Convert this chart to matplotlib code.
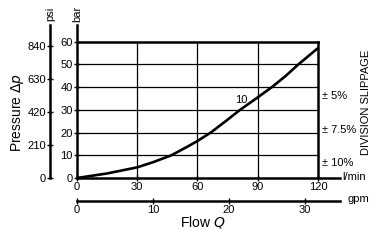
import matplotlib.pyplot as plt

plt.rcParams['font.family'] = ['Liberation Sans Narrow', 'Liberation Sans', 'DejaVu Sans']

# curve (flow in l/min, pressure in bar)
flow = [0, 15, 30, 38, 47, 55, 60, 66.6, 74, 81.2, 90, 97, 104, 110.2, 120]
pressure = [0, 2, 4.7, 7, 10, 13.8, 16.3, 20, 25, 30, 35.5, 40, 45, 50, 57.2]

bar_ticks = [0, 10, 20, 30, 40, 50, 60]
psi_ticks = [0, 210, 420, 630, 840]
lmin_ticks = [0, 30, 60, 90, 120]
gpm_ticks = [0, 10, 20, 30]
slippage = ["± 5%", "± 7.5%", "± 10%"]
slippage_y = [96, 130, 163]  # pixel rows of the labels

W, H = 387, 246
fig = plt.figure(figsize=(W / 100, H / 100), dpi=100)

x0, x1, y0, y1 = 77, 340, 178, 25
ax = fig.add_axes([x0 / W, 1 - y0 / H, (x1 - x0) / W, (y0 - y1) / H])
ax.set_xlim(0, 131)
ax.set_ylim(0, 67.4)
for s in ["top", "right"]:
    ax.spines[s].set_visible(False)
for s in ["left", "bottom"]:
    ax.spines[s].set_linewidth(1.8)

# grid inside the 0-120 / 0-60 box
for v in bar_ticks[1:]:
    ax.plot([0, 120], [v, v], color="black", lw=1.8 if v == 60 else 0.9, zorder=1)
for v in lmin_ticks[1:]:
    ax.plot([v, v], [0, 60], color="black", lw=1.8 if v == 120 else 0.9, zorder=1)

ax.plot(flow, pressure, color="black", lw=1.9, zorder=3, solid_capstyle="round")
ax.text(82, 34.5, "10", fontsize=8, ha="center", va="center")

ax.set_yticks(bar_ticks)
ax.set_xticks(lmin_ticks)
ax.tick_params(direction="inout", length=4, width=1, labelsize=8, pad=1)

# psi axis
psi = ax.secondary_yaxis(-(77 - 50) / (x1 - x0), functions=(lambda b: b * 14.5, lambda p: p / 14.5))
psi.set_yticks(psi_ticks)
psi.spines["left"].set_linewidth(1.8)
psi.tick_params(direction="inout", length=4, width=1, labelsize=8, pad=1)

# gpm axis
gpm = ax.secondary_xaxis(-(201 - 178) / (y0 - y1), functions=(lambda q: q / 3.785, lambda g: g * 3.785))
gpm.set_xticks(gpm_ticks)
gpm.spines["bottom"].set_linewidth(1.8)
gpm.tick_params(direction="inout", length=4, width=1, labelsize=8, pad=1)

def px(x, y):
    return x / W, 1 - y / H

fig.text(*px(50, 14), "psi", rotation=90, ha="center", va="center", fontsize=8)
fig.text(*px(77, 14), "bar", rotation=90, ha="center", va="center", fontsize=8)
fig.text(*px(18, 112), "Pressure $\\mathit{\\Delta p}$", rotation=90, ha="center", va="center", fontsize=10)
fig.text(*px(203, 222), "Flow $\\mathit{Q}$", ha="center", va="center", fontsize=10)
fig.text(*px(342, 177), "l/min", ha="left", va="center", fontsize=8)
fig.text(*px(347, 199), "gpm", ha="left", va="center", fontsize=8)
for lab, y in zip(slippage, slippage_y):
    fig.text(*px(322, y), lab, ha="left", va="center", fontsize=8)
fig.text(*px(366, 102), "DIVISION SLIPPAGE", rotation=90, ha="center", va="center", fontsize=8)

fig.savefig("out.png", dpi=100)
